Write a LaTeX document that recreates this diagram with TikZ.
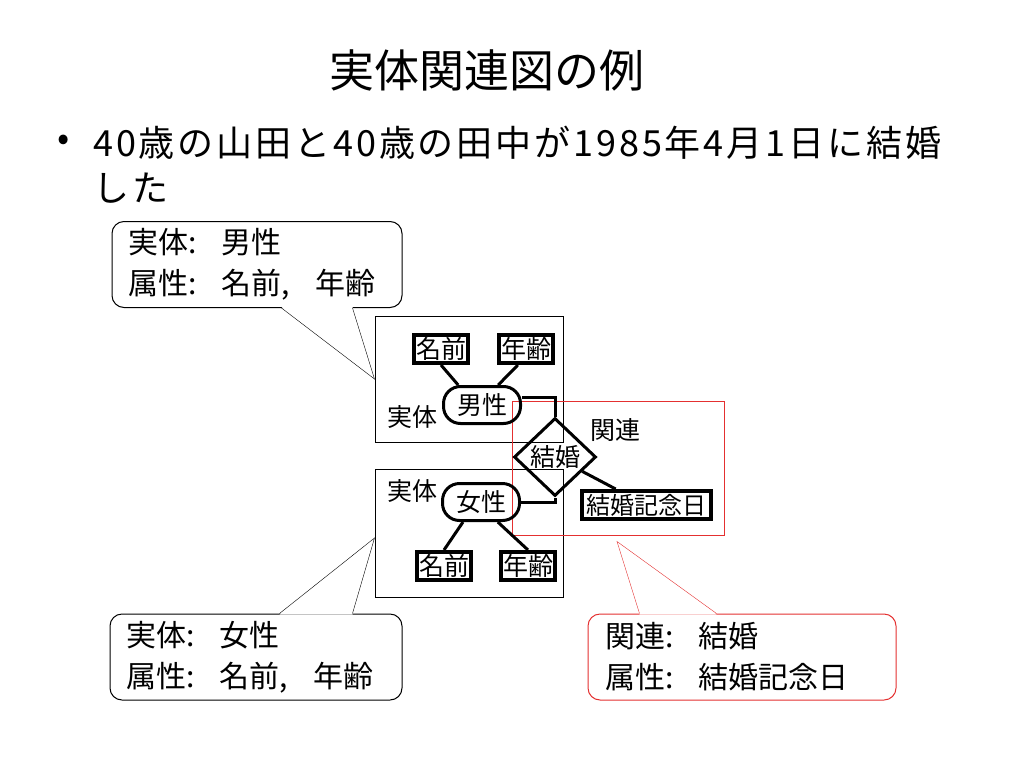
\documentclass[tikz,border=0pt]{standalone}
\usepackage{fontspec}
\setmainfont{Noto Sans CJK JP}
\usetikzlibrary{shapes.geometric,calc}
\definecolor{calloutred}{RGB}{228,48,48}
\begin{document}
\begin{tikzpicture}[x=1pt,y=-1pt]
			\tikzstyle{attr} = [draw, line width=4pt, minimum width=54pt, minimum height=28pt, inner sep=0.5pt, font=\fontsize{25}{28}\selectfont]
			\tikzstyle{entity} = [draw, line width=3pt, rounded corners=17pt, minimum width=77pt, minimum height=37pt, inner sep=1pt, font=\fontsize{25}{28}\selectfont]
			\tikzstyle{rel} = [draw, diamond, line width=3pt, minimum width=82pt, minimum height=78pt, inner sep=0pt, font=\fontsize{25}{28}\selectfont]
			\tikzstyle{label} = [font=\fontsize{25}{28}\selectfont]
			\tikzstyle{frame} = [draw, line width=1pt]
			\tikzstyle{callout} = [draw, rounded corners=12pt, line width=1pt, align=left, inner xsep=16pt, minimum height=86pt, font=\fontsize{30}{41}\selectfont]
			\tikzstyle{link} = [line width=3pt]
			\useasboundingbox (0,0) rectangle (1024,768);
			\node (title) at (487,70) {\fontsize{45}{45}\selectfont 実体関連図の例};
			\node (bullet) at (64,143) {\fontsize{36}{36}\selectfont •};
			\node[anchor=west, align=left, inner sep=0pt, font={\fontsize{36}{45}\selectfont\addfontfeature{LetterSpace=8}}] (item) at (93,165) {40歳の山田と40歳の田中が1985年4月1日に結婚\\した};
			% frames
			\node[frame, minimum width=188pt, minimum height=126pt] (boxM) at (469,379) {};
			\node[frame, minimum width=188pt, minimum height=128pt] (boxW) at (469,533) {};
			\node[frame, draw=calloutred, minimum width=212pt, minimum height=134pt] (boxR) at (618,468) {};
			% diagram
			\node[attr] (nameM) at (441,349) {名前};
			\node[attr] (ageM) at (526,349) {年齢};
			\node[entity] (man) at (482,405) {男性};
			\node[label] (labelM) at (412,417) {実体};
			\node[rel] (marriage) at (555,457) {結婚};
			\node[label] (labelR) at (615,430) {関連};
			\node[attr, minimum width=129pt, inner xsep=2pt, font=\fontsize{24}{28}\selectfont] (date) at (646,505) {結婚記念日};
			\node[entity] (woman) at (481,502) {女性};
			\node[label] (labelW) at (412,491) {実体};
			\node[attr] (nameW) at (444,566) {名前};
			\node[attr] (ageW) at (528,566) {年齢};
			\draw[link] (nameM.south) -- (man.140);
			\draw[link] (ageM.243) -- (man.51);
			\draw[link] (man.10) -| (marriage.north);
			\draw[link] (woman.east) -| (marriage.south);
			\draw[link] (marriage) -- (date);
			\draw[link] (woman.228) -- (nameW.north);
			\draw[link] (woman.310) -- (ageW.north);
			% callouts
			\node[callout, text width=258pt] (calloutM) at (257,264.5) {実体:\hspace{0.85em}男性\\属性:\hspace{0.85em}名前,\hspace{0.85em}年齢};
			\node[callout, text width=260pt] (calloutW) at (256,657) {実体:\hspace{0.85em}女性\\属性:\hspace{0.85em}名前,\hspace{0.85em}年齢};
			\node[callout, draw=calloutred, text width=274pt, inner xsep=17pt] (calloutR) at (742,657) {関連:\hspace{0.85em}結婚\\属性:\hspace{0.85em}結婚記念日};
			\coordinate (tipW) at ($(boxW.west)+(0,5)$);
			\coordinate (tipR) at ($(boxR.south)+(-1,6)$);
			\fill[white] ($(calloutM.south west)+(170,-1)$) -- (boxM.west) -- ($(calloutM.south west)+(241,-1)$) -- cycle;
			\draw ($(calloutM.south west)+(170,0)$) -- (boxM.west) -- ($(calloutM.south west)+(241,0)$);
			\fill[white] ($(calloutW.north west)+(170,1)$) -- (tipW) -- ($(calloutW.north west)+(243,1)$) -- cycle;
			\draw ($(calloutW.north west)+(170,0)$) -- (tipW) -- ($(calloutW.north west)+(243,0)$);
			\fill[white] ($(calloutR.north west)+(52,1)$) -- (tipR) -- ($(calloutR.north west)+(129,1)$) -- cycle;
			\draw[calloutred] ($(calloutR.north west)+(52,0)$) -- (tipR) -- ($(calloutR.north west)+(129,0)$);
\end{tikzpicture}
\end{document}
